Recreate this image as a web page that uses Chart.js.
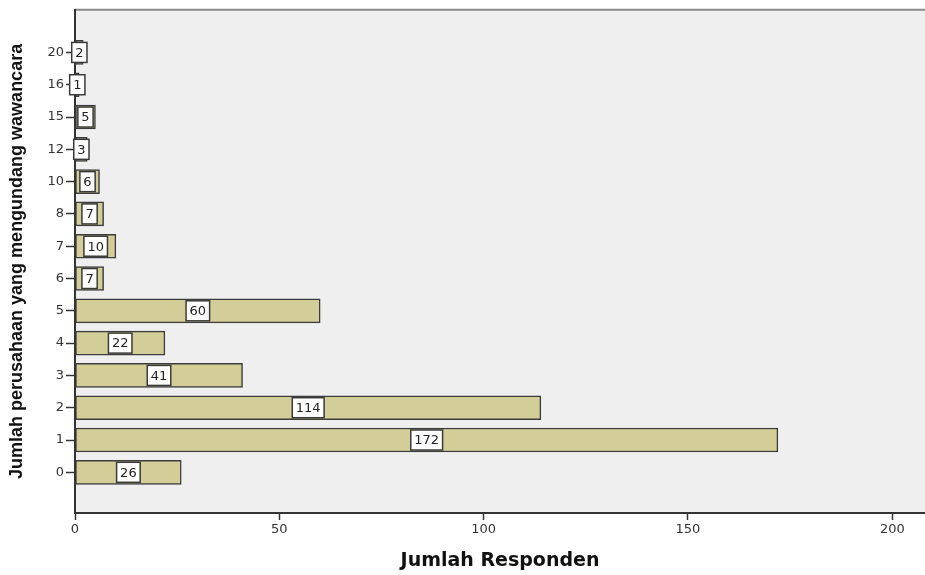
<!DOCTYPE html>
<html>
<head>
<meta charset="utf-8">
<script src="https://cdn.jsdelivr.net/npm/chart.js@4/dist/chart.umd.min.js"></script>
<style>
  html, body { margin: 0; padding: 0; background: #ffffff; }
  #wrap { width: 925px; height: 575px; position: relative; }
</style>
</head>
<body>
<div id="wrap"><canvas id="c" width="925" height="575"></canvas></div>
<script>
// Categories (bottom to top): number of companies that invited to interview
const categories = ['0', '1', '2', '3', '4', '5', '6', '7', '8', '10', '12', '15', '16', '20'];
// Number of respondents per category
const respondents = [26, 172, 114, 41, 22, 60, 7, 10, 7, 6, 3, 5, 1, 2];
// X-axis tick step and titles
const xTickStep = 50;
const xTitle = 'Jumlah Responden';
const yTitle = 'Jumlah perusahaan yang mengundang wawancara';

const plotBg = {
  id: 'plotBg',
  beforeDraw(chart) {
    const { ctx, chartArea: a } = chart;
    ctx.save();
    ctx.fillStyle = '#efefef';
    ctx.fillRect(a.left, a.top, a.right - a.left, a.bottom - a.top);
    ctx.strokeStyle = '#8a8a8a';
    ctx.lineWidth = 2;
    ctx.beginPath();
    ctx.moveTo(a.left, a.top);
    ctx.lineTo(a.right, a.top);
    ctx.stroke();
    ctx.restore();
  }
};

const boxLabels = {
  id: 'boxLabels',
  afterDatasetsDraw(chart) {
    const { ctx } = chart;
    const meta = chart.getDatasetMeta(0);
    ctx.save();
    ctx.font = '13px "DejaVu Sans", sans-serif';
    ctx.textAlign = 'center';
    ctx.textBaseline = 'middle';
    meta.data.forEach((el, i) => {
      const p = el.getProps(['x', 'y', 'base'], true);
      const cx = (p.x + p.base) / 2;
      const txt = String(chart.data.datasets[0].data[i].x);
      const tw = ctx.measureText(txt).width;
      const w = tw + 7, h = 20;
      ctx.fillStyle = '#ffffff';
      ctx.fillRect(cx - w / 2, p.y - h / 2, w, h);
      ctx.strokeStyle = '#3a3a3a';
      ctx.lineWidth = 1.5;
      ctx.strokeRect(cx - w / 2, p.y - h / 2, w, h);
      ctx.fillStyle = '#222222';
      ctx.fillText(txt, cx, p.y + 1);
    });
    ctx.restore();
  }
};

new Chart(document.getElementById('c'), {
  type: 'bar',
  data: {
    datasets: [{
      data: respondents.map((v, i) => ({ x: v, y: i })),
      backgroundColor: '#d3ce98',
      borderColor: '#3c3c3c',
      borderWidth: 1.5,
      borderSkipped: false,
      barThickness: 24
    }]
  },
  options: {
    indexAxis: 'y',
    responsive: false,
    animation: false,
    layout: { padding: { top: 7, right: 0, left: 0, bottom: 0 } },
    plugins: { legend: { display: false }, tooltip: { enabled: false } },
    scales: {
      x: {
        type: 'linear',
        min: 0,
        max: 208,
        offset: false,
        afterFit(s) { s.height = 62; },
        ticks: {
          stepSize: xTickStep,
          includeBounds: false,
          color: '#333333',
          font: { family: '"DejaVu Sans", sans-serif', size: 13 },
          padding: 2,
          maxRotation: 0
        },
        grid: { offset: false, drawOnChartArea: false, drawTicks: true, tickLength: 7, color: '#333333', tickWidth: 1.5 },
        border: { display: true, color: '#333333', width: 2 },
        title: {
          display: true,
          text: xTitle,
          color: '#111111',
          font: { family: '"DejaVu Sans", sans-serif', size: 19, weight: 'bold' },
          padding: { top: 0, bottom: 3 }
        }
      },
      y: {
        type: 'linear',
        min: -1.26,
        max: 14.32,
        offset: false,
        afterFit(s) { s.width = 75; },
        afterBuildTicks(s) {
          s.ticks = categories.map((c, i) => ({ value: i }));
        },
        ticks: {
          autoSkip: false,
          color: '#333333',
          font: { family: '"DejaVu Sans", sans-serif', size: 13 },
          padding: 2,
          callback: (v) => categories[v] !== undefined ? categories[v] : ''
        },
        grid: { offset: false, drawOnChartArea: false, drawTicks: true, tickLength: 9, color: '#333333', tickWidth: 1.5 },
        border: { display: true, color: '#333333', width: 2 },
        title: {
          display: true,
          text: yTitle,
          color: '#111111',
          font: { family: '"Liberation Sans Narrow", "Liberation Sans", sans-serif', size: 18, weight: 'bold' },
          padding: { top: 6, bottom: 0 }
        }
      }
    }
  },
  plugins: [plotBg, boxLabels]
});
</script>
</body>
</html>
